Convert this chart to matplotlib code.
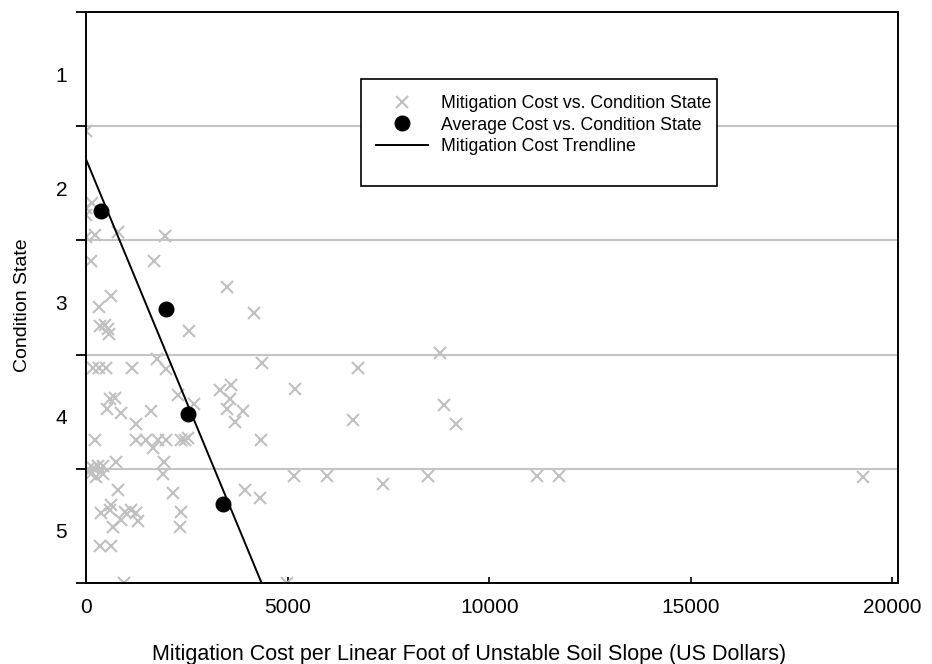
import matplotlib
matplotlib.use("Agg")
import matplotlib.pyplot as plt
from matplotlib.patches import Rectangle
from matplotlib.transforms import ScaledTranslation
import numpy as np

plt.rcParams['font.family'] = ['Liberation Sans', 'DejaVu Sans']

# individual sites: mitigation cost (US$ per linear foot) vs condition state
cost = [0, 136, 0, 0, 211, 0, 782, 1960, 124, 1675,
        3478, 600, 322, 4168, 335, 459, 533, 571, 2543,
        161, 303, 491, 1136, 1762, 1972, 4354, 8788, 6743,
        5173, 3305, 3578, 2270, 2667, 583, 707, 3560, 516, 863,
        1613, 3478, 3883, 3684, 1236, 6619, 8870, 9167,
        223, 1236, 1484, 1650, 1774, 1980, 2357, 2436, 2518, 4330,
        744, 1935, 161, 285, 409, 119, 243, 409, 30, 1898,
        5148, 5974, 7364, 8480, 11185, 11731, 19273,
        789, 2154, 3933, 4305, 616, 372, 575, 948, 1111, 1236,
        657, 863, 1278, 2357, 2320, 327, 600, 938, 4967]
state = [1.54, 2.17, 2.22, 2.28, 2.45, 2.47, 2.43, 2.46, 2.68, 2.68,
         2.91, 2.99, 3.08, 3.14, 3.25, 3.24, 3.28, 3.32, 3.29,
         3.62, 3.62, 3.62, 3.62, 3.54, 3.63, 3.57, 3.49, 3.62,
         3.80, 3.81, 3.77, 3.85, 3.93, 3.89, 3.88, 3.89, 3.98, 4.01,
         3.99, 3.98, 3.99, 4.09, 4.11, 4.07, 3.94, 4.11,
         4.25, 4.25, 4.25, 4.32, 4.25, 4.25, 4.25, 4.25, 4.23, 4.25,
         4.44, 4.44, 4.49, 4.48, 4.48, 4.55, 4.57, 4.55, 4.50, 4.55,
         4.56, 4.56, 4.63, 4.56, 4.56, 4.56, 4.57,
         4.69, 4.71, 4.69, 4.76, 4.82, 4.89, 4.86, 4.88, 4.86, 4.89,
         5.01, 4.95, 4.96, 4.88, 5.01, 5.18, 5.18, 5.5, 5.5]

# average cost per condition state
avg_cost = [367, 1965, 2526, 3395]
avg_state = [2.24, 3.10, 4.02, 4.81]

# trendline: state = intercept + slope * cost
trend_intercept = 1.80
trend_slope = 0.000851

x_ticks = [0, 5000, 10000, 15000, 20000]
y_ticks = [1, 2, 3, 4, 5]

fig = plt.figure(figsize=(9.32, 6.64), dpi=100)
ax = fig.add_axes([0.0928, 0.122, 0.8707, 0.860])

for g in [1.5, 2.5, 3.5, 4.5]:
    ax.axhline(g, color='#c4c4c4', lw=1.5, zorder=0)

ax.plot(cost, state, linestyle='none', marker='x', ms=8.5, mew=1.5,
        color='#c0c0c0', label='Mitigation Cost vs. Condition State', zorder=2)
ax.plot(avg_cost, avg_state, linestyle='none', marker='o', ms=10.5,
        color='black', label='Average Cost vs. Condition State', zorder=4)
xt = np.array([0, 6000])
ax.plot(xt, trend_intercept + trend_slope * xt, color='black', lw=1.4,
        label='Mitigation Cost Trendline', zorder=3)

ax.set_xlim(0, 20150)
ax.set_ylim(5.5, 0.5)

ax.set_xticks(x_ticks)
ax.set_xticklabels([str(v) for v in x_ticks])
ax.set_yticks(y_ticks)
ax.set_yticks([0.5, 1.5, 2.5, 3.5, 4.5, 5.5], minor=True)
ax.tick_params(axis='y', which='major', length=0, pad=14, labelsize=15)
ax.tick_params(axis='y', which='minor', length=7, width=1.3, direction='out')
ax.tick_params(axis='x', which='major', length=4, width=1.2, direction='in',
               pad=11, labelsize=15)

# y labels sit a little below their values in the original
shift = ScaledTranslation(0, -5 / 100, fig.dpi_scale_trans)
for lab in ax.get_yticklabels():
    lab.set_transform(lab.get_transform() + shift)

for s in ax.spines.values():
    s.set_linewidth(1.4)

ax.set_xlabel('Mitigation Cost per Linear Foot of Unstable Soil Slope (US Dollars)',
              fontsize=15.5)
ax.xaxis.set_label_coords(0.471, -0.106)
ax.set_ylabel('Condition State', fontsize=14)
ax.yaxis.set_label_coords(-0.068, 0.487)

# legend box drawn separately so its padding matches the original
ax.add_patch(Rectangle((0.3383, 0.6953), 0.4387, 0.1874, transform=ax.transAxes,
                       facecolor='white', edgecolor='black', lw=1.2, zorder=5))
leg = ax.legend(loc='center left', bbox_to_anchor=(0.3567, 0.802), borderaxespad=0,
                fontsize=12.8, frameon=False, handlelength=2.9, handletextpad=0.75,
                labelspacing=0.25, borderpad=0, numpoints=1)
leg.set_zorder(6)

fig.savefig('out.png', dpi=100)
